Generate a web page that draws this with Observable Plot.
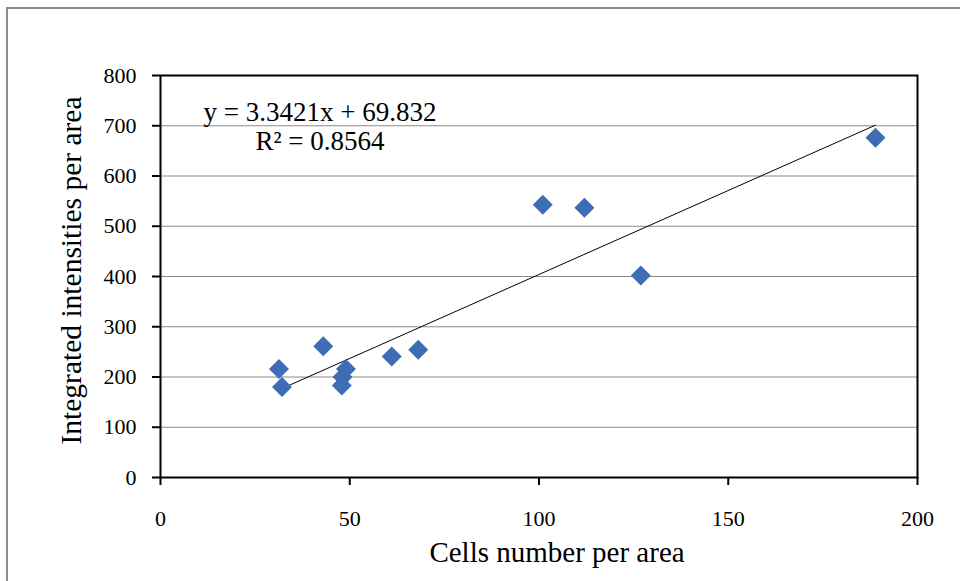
<!DOCTYPE html>
<html>
<head>
<meta charset="utf-8">
<script src="https://cdn.jsdelivr.net/npm/d3@7"></script>
<script src="https://cdn.jsdelivr.net/npm/@observablehq/plot@0.6"></script>
<style>
  html, body { margin: 0; padding: 0; background: #fff; overflow: hidden; }
  #wrap { position: relative; width: 960px; height: 581px; }
  #frame { position: absolute; left: 6px; top: 7px; width: 1000px; height: 700px;
           border: 2px solid #8c8c8c; box-sizing: border-box; pointer-events: none; }
  #chart { position: absolute; left: 0; top: 0; }
  #chart svg text { font-family: "Liberation Serif", "Times New Roman", serif !important; }
  #chart svg g[aria-label="y-axis tick label"], #chart svg g[aria-label="x-axis tick label"],
  #chart svg g[aria-label="y-axis tick label"] text, #chart svg g[aria-label="x-axis tick label"] text {
    font-size: 22px !important; font-family: "Liberation Serif", "Times New Roman", serif !important; }
</style>
</head>
<body>
<div id="wrap"><div id="chart"></div><div id="frame"></div></div>
<script>
// Data
const cells = [31.3, 32.1, 43.0, 49.0, 48.1, 47.9, 61.1, 68.1, 101.0, 112.0, 126.9, 188.9];
const intensities = [216, 180, 261, 216, 200, 183, 241, 254, 543, 537, 402, 676];
const xTicks = [0, 50, 100, 150, 200];
const yTicks = [0, 100, 200, 300, 400, 500, 600, 700, 800];
const slope = 3.3421;
const intercept = 69.832;
const eqLabel = "y = 3.3421x + 69.832";
const r2Label = "R² = 0.8564";
const xTitle = "Cells number per area";
const yTitle = "Integrated intensities per area";

const points = cells.map((x, i) => ({x, y: intensities[i]}));
const xMin = d3.min(cells), xMax = d3.max(cells);
const trend = [xMin, xMax].map(x => ({x, y: slope * x + intercept}));

const font = "Liberation Serif, Times New Roman, serif";

const plot = Plot.plot({
  width: 960,
  height: 581,
  marginLeft: 160,
  marginRight: 43,
  marginTop: 75,
  marginBottom: 104,
  style: {fontFamily: font, fontSize: "22px", color: "#000", background: "transparent"},
  x: {domain: [0, 200], ticks: xTicks, label: null},
  y: {domain: [0, 800], ticks: yTicks, label: null},
  marks: [
    Plot.gridY(yTicks.filter(d => d > 0 && d < 800), {stroke: "#8a8a8a", strokeOpacity: 1, strokeWidth: 1}),
    Plot.line(trend, {x: "x", y: "y", stroke: "#000", strokeWidth: 1}),
    Plot.dot(points, {x: "x", y: "y", symbol: "diamond2", r: 9, fill: "#3d6db5", stroke: "none"}),
    Plot.frame({stroke: "#000", strokeWidth: 2}),
    Plot.axisY({ticks: yTicks, tickSize: 8, tickPadding: 16, tickFormat: d => String(d),
                stroke: "#000", strokeWidth: 2, fontSize: 22, fontFamily: font, label: null}),
    Plot.axisX({ticks: xTicks, tickSize: 8, tickPadding: 25, tickFormat: d => String(d),
                stroke: "#000", strokeWidth: 2, fontSize: 22, fontFamily: font, label: null}),
    Plot.text([eqLabel], {frameAnchor: "top-left", dx: 43, dy: 36.5, text: d => d, fontSize: 27,
                          fontFamily: font, textAnchor: "start", lineAnchor: "middle", fill: "#000"}),
    Plot.text([r2Label], {frameAnchor: "top-left", dx: 95, dy: 65.5, text: d => d, fontSize: 27,
                          fontFamily: font, textAnchor: "start", lineAnchor: "middle", fill: "#000"}),
    Plot.text([xTitle], {frameAnchor: "bottom", dx: 18, dy: 75.5, text: d => d, fontSize: 29,
                         fontFamily: font, textAnchor: "middle", lineAnchor: "middle", fill: "#000"}),
    Plot.text([yTitle], {frameAnchor: "left", dx: -89.4, dy: -6, rotate: -90, text: d => d, fontSize: 29.5,
                         fontFamily: font, textAnchor: "middle", lineAnchor: "middle", fill: "#000"})
  ]
});
document.getElementById("chart").appendChild(plot);
</script>
</body>
</html>
